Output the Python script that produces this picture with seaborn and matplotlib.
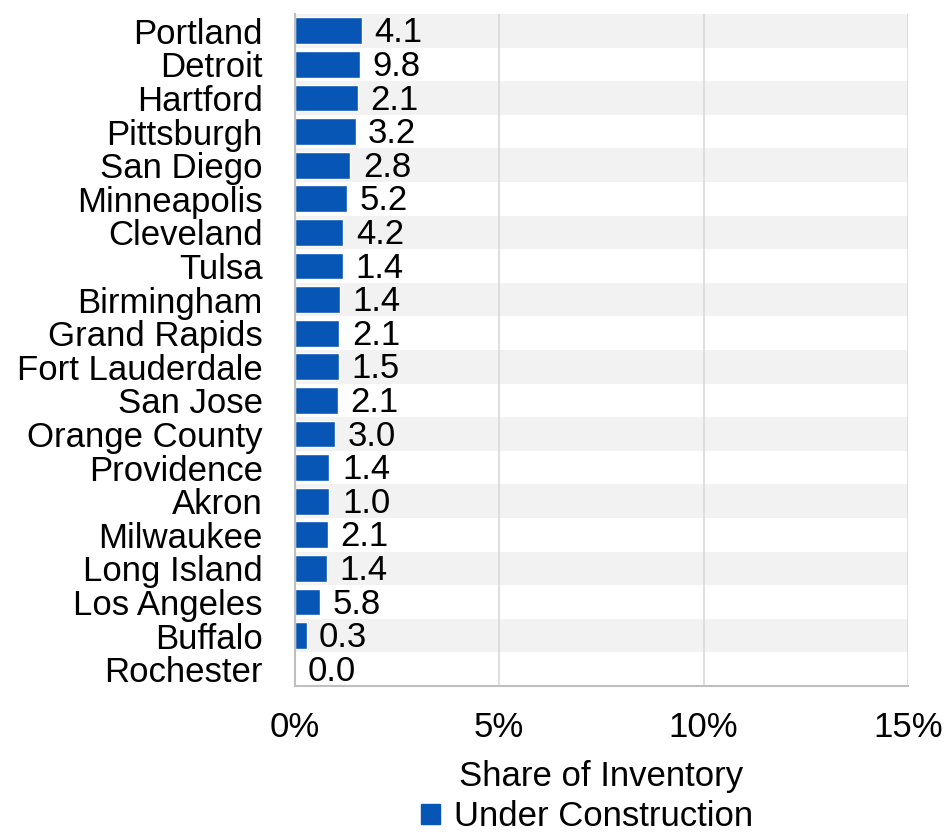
import seaborn as sns
import matplotlib.pyplot as plt
import pandas as pd
from matplotlib.patches import Patch

# Markets, ordered as in the chart
cities = ["Portland", "Detroit", "Hartford", "Pittsburgh", "San Diego",
          "Minneapolis", "Cleveland", "Tulsa", "Birmingham", "Grand Rapids",
          "Fort Lauderdale", "San Jose", "Orange County", "Providence", "Akron",
          "Milwaukee", "Long Island", "Los Angeles", "Buffalo", "Rochester"]
# Under construction as share of inventory (%)
share = [1.64, 1.60, 1.55, 1.49, 1.36, 1.27, 1.19, 1.18, 1.11, 1.09,
         1.09, 1.06, 0.98, 0.85, 0.85, 0.82, 0.79, 0.61, 0.29, 0.0]
# Labels printed next to bars (msf)
sqft = [4.1, 9.8, 2.1, 3.2, 2.8, 5.2, 4.2, 1.4, 1.4, 2.1,
        1.5, 2.1, 3.0, 1.4, 1.0, 2.1, 1.4, 5.8, 0.3, 0.0]
xticks = [0, 5, 10, 15]

df = pd.DataFrame({"city": cities, "share": share})

sns.set_theme(style="white")
plt.rcParams["font.family"] = ["Liberation Sans", "DejaVu Sans"]
plt.rcParams["text.color"] = "black"
plt.rcParams["xtick.color"] = "black"
plt.rcParams["ytick.color"] = "black"
plt.rcParams["axes.labelcolor"] = "black"

blue = "#0756B6"
grey = "#BFBFBF"
fs = 25

fig = plt.figure(figsize=(9.47, 8.32), dpi=100)
ax = fig.add_axes([0.3112, 0.1755, 0.6478, 0.8077])

# alternating row bands
for i in range(0, len(cities), 2):
    ax.axhspan(i - 0.5, i + 0.5, color="#F2F2F2", zorder=0, lw=0)

sns.barplot(data=df, x="share", y="city", orient="h", color=blue,
            width=0.8, saturation=1, ax=ax, zorder=3)

labels = ax.bar_label(ax.containers[0], labels=[f"{v:.1f}" for v in sqft],
                      padding=9, fontsize=fs, color="black")
# value labels sit a touch below the bar centre
for t in labels:
    t.xyann = (9, -1.5)

ax.set_xlim(0, 15)
ax.set_xticks(xticks)
ax.set_xticklabels([f"{t}%" for t in xticks], fontsize=fs)
ax.set_ylabel("")
ax.set_xlabel("Share of Inventory", fontsize=fs)
ax.xaxis.label.set_va("baseline")
ax.xaxis.set_label_coords(0.5, (46 - 146) / 672)
ax.tick_params(axis="y", length=0, pad=23, labelsize=fs)
ax.tick_params(axis="x", length=7, width=1.5, color=grey, pad=11, labelsize=fs)

for t in xticks[1:]:
    ax.axvline(t, color="#D9D9D9", lw=1.2, zorder=1)

for s in ["top", "right"]:
    ax.spines[s].set_visible(False)
for s in ["left", "bottom"]:
    ax.spines[s].set_color(grey)
    ax.spines[s].set_linewidth(1.5)
    ax.spines[s].set_zorder(4)

fig.legend(handles=[Patch(color=blue, label="Under Construction")],
           loc="center", bbox_to_anchor=(587.5 / 947, 1 - 817 / 832),
           frameon=False, fontsize=fs, handlelength=0.52, handleheight=0.52,
           handletextpad=0.43, borderpad=0)

fig.savefig("out.png", dpi=100)
